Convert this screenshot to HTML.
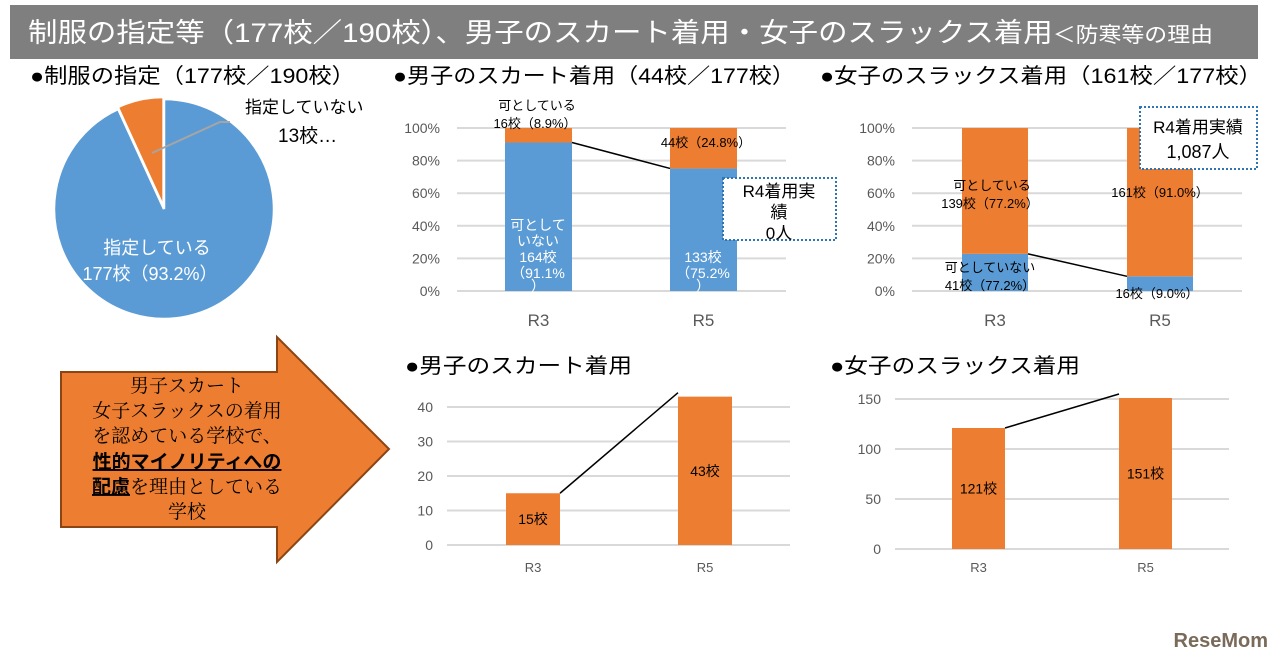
<!DOCTYPE html>
<html><head><meta charset="utf-8"><style>
body{margin:0;width:1280px;height:663px;background:#fff;overflow:hidden;font-family:"Liberation Sans","Noto Sans CJK JP",sans-serif}
svg text{font-family:"Liberation Sans","Noto Sans CJK JP",sans-serif}
.sf{font-family:"Liberation Serif","Noto Serif CJK SC",serif !important}
</style></head><body>
<svg id="s" width="1280" height="663" viewBox="0 0 1280 663">
<rect x="10" y="5" width="1248" height="54" fill="#7f7f7f"/>
<text x="28" y="42" font-size="27" fill="#fff" textLength="1185" lengthAdjust="spacingAndGlyphs">制服の指定等（177校／190校）、男子のスカート着用・女子のスラックス着用<tspan font-size="21">＜防寒等の理由</tspan></text>
<text x="30" y="83" font-size="21" fill="#000" textLength="325" lengthAdjust="spacingAndGlyphs">●制服の指定（177校／190校）</text>
<text x="393" y="83" font-size="21" fill="#000" textLength="402" lengthAdjust="spacingAndGlyphs">●男子のスカート着用（44校／177校）</text>
<text x="820" y="83" font-size="21" fill="#000" textLength="442" lengthAdjust="spacingAndGlyphs">●女子のスラックス着用（161校／177校）</text>
<text x="405" y="373" font-size="21" fill="#000" textLength="227" lengthAdjust="spacingAndGlyphs">●男子のスカート着用</text>
<text x="830" y="373" font-size="21" fill="#000" textLength="250" lengthAdjust="spacingAndGlyphs">●女子のスラックス着用</text>
<g id="pie"></g>
<g id="c1"></g>
<g id="c2"></g>
<g id="c3"></g>
<g id="c4"></g>
<path d="M61,372 H277 V337 L389,449 L277,562 V527 H61 Z" fill="#ed7d31" stroke="#8b4513" stroke-width="2"/>
<g font-size="19" text-anchor="middle">
<text class="sf" x="187" y="392">男子スカート</text>
<text class="sf" x="187" y="417">女子スラックスの着用</text>
<text class="sf" x="187" y="442">を認めている学校で、</text>
<text x="187" y="468" font-weight="bold" text-decoration="underline">性的マイノリティへの</text>
<text x="187" y="493"><tspan font-weight="bold" text-decoration="underline">配慮</tspan><tspan class="sf">を理由としている</tspan></text>
<text class="sf" x="187" y="518">学校</text>
</g>
<text x="1268" y="647" font-size="20" font-weight="bold" fill="#7a6a5a" text-anchor="end">ReseMom</text>
</svg>
<script>
const NS="http://www.w3.org/2000/svg";
function el(p,t,a){const e=document.createElementNS(NS,t);for(const k in a)e.setAttribute(k,a[k]);p.appendChild(e);return e;}
function tx(p,x,y,s,size,fill,anchor){const e=el(p,'text',{x:x,y:y,'font-size':size,fill:fill,'text-anchor':anchor||'middle'});e.textContent=s;return e;}
// pie data
const pieLabels=["指定している","指定していない"];
const pieValues=[177,13];
const pieColors=["#5b9bd5","#ed7d31"];
// percent stacked charts
const pctCats=["R3","R5"];
const boysNo=[91.1,75.2];
const boysYes=[8.9,24.8];
const girlsNo=[22.8,9.0];
const girlsYes=[77.2,91.0];
const pctTicks=["0%","20%","40%","60%","80%","100%"];
// count charts
const boysCount=[15,43];
const girlsCount=[121,151];
const boysTicks=[0,10,20,30,40];
const girlsTicks=[0,50,100,150];

// pie
(function(){
 const g=document.getElementById('pie');const cx=164,cy=209,r=110;
 const tot=pieValues.reduce((a,b)=>a+b,0);let a0=0;
 pieValues.forEach((v,i)=>{
  const a1=a0+v/tot*2*Math.PI;
  let ox=0,oy=0; if(i==1){const m=(a0+a1)/2;ox=Math.sin(m)*2;oy=-Math.cos(m)*2;}
  const x0=cx+ox+r*Math.sin(a0),y0=cy+oy-r*Math.cos(a0),x1=cx+ox+r*Math.sin(a1),y1=cy+oy-r*Math.cos(a1);
  const p=el(g,'path',{d:`M${cx+ox},${cy+oy} L${x0},${y0} A${r},${r} 0 ${a1-a0>Math.PI?1:0} 1 ${x1},${y1} Z`,fill:pieColors[i],stroke:'#fff','stroke-width':2.5});
  
  
  a0=a1;
 });
 el(g,'polyline',{points:"152,153 220,122 230,122",fill:'none',stroke:'#a5a5a5','stroke-width':2});
 tx(g,245,113,"指定していない",17,'#000','start');
 tx(g,278,142,"13校…",19,'#000','start');
 tx(g,157,254,"指定している",18,'#fff');
 tx(g,150,280,pieValues[0]+"校（93.2%）",18,'#fff');
})();

function pctChart(id,x0,x1,barX,bw,no,yes){
 const g=document.getElementById(id);const yb=291,yt=128;
 const Y=v=>yb-(yb-yt)*v/100;
 pctTicks.forEach((t,i)=>{const v=i*20;el(g,'line',{x1:x0,x2:x1,y1:Y(v),y2:Y(v),stroke:'#d9d9d9','stroke-width':2});tx(g,x0-17,Y(v)+5,t,14,'#595959','end');});
 pctCats.forEach((c,i)=>{
  const b=el(g,'rect',{x:barX[i],y:Y(no[i]),width:bw,height:Y(0)-Y(no[i]),fill:'#5b9bd5'});
  
  
  const o=el(g,'rect',{x:barX[i],y:Y(no[i]+yes[i]),width:bw,height:Y(no[i])-Y(no[i]+yes[i]),fill:'#ed7d31'});
  
  
  tx(g,barX[i]+bw/2,326,c,17,'#595959');
 });
 el(g,'line',{x1:barX[0]+bw,y1:Y(no[0]),x2:barX[1],y2:Y(no[1]),stroke:'#000','stroke-width':1.5});
 return {g,Y};
}
const a=pctChart('c1',457,786,[505,670],67,boysNo,boysYes);
tx(a.g,537,110,"可としている",13,'#000');
tx(a.g,535,128,"16校（"+boysYes[0]+"%）",13,'#000');
tx(a.g,706,147,"44校（"+boysYes[1]+"%）",13,'#000');
[["可として",230],["いない",246],["164校",262],["（91.1%",278],["）",291]].forEach(s=>tx(a.g,538,s[1],s[0],14,'#fff'));
[["133校",262],["（75.2%",278],["）",291]].forEach(s=>tx(a.g,703,s[1],s[0],14,'#fff'));
el(a.g,'rect',{x:723,y:178,width:113,height:62,fill:'#fff',stroke:'#2e75b6','stroke-width':2,'stroke-dasharray':'2,2'});
tx(a.g,779,197,"R4着用実",17,'#000');tx(a.g,779,218,"績",17,'#000');tx(a.g,779,239,"0人",17,'#000');

const b=pctChart('c2',912,1242,[962,1127],66,girlsNo,girlsYes);
tx(b.g,992,190,"可としている",13,'#000');tx(b.g,990,208,"139校（77.2%）",13,'#000');
tx(b.g,990,272,"可としていない",13,'#000');tx(b.g,990,290,"41校（77.2%）",13,'#000');
tx(b.g,1160,197,"161校（"+girlsYes[1].toFixed(1)+"%）",13,'#000');
tx(b.g,1157,298,"16校（"+girlsNo[1].toFixed(1)+"%）",13,'#000');
el(b.g,'rect',{x:1140,y:107,width:117,height:62,fill:'#fff',stroke:'#2e75b6','stroke-width':2,'stroke-dasharray':'2,2'});
tx(b.g,1198,133,"R4着用実績",17,'#000');tx(b.g,1198,158,"1,087人",18,'#000');

function countChart(id,x0,x1,yb,yt,max,ticks,barX,bw,vals){
 const g=document.getElementById(id);const Y=v=>yb-(yb-yt)*v/max;
 ticks.forEach(t=>{el(g,'line',{x1:x0,x2:x1,y1:Y(t),y2:Y(t),stroke:'#d9d9d9','stroke-width':2});tx(g,x0-14,Y(t)+5,String(t),14,'#595959','end');});
 vals.forEach((v,i)=>{
  const r=el(g,'rect',{x:barX[i],y:Y(v),width:bw,height:Y(0)-Y(v),fill:'#ed7d31'});
  
  
  tx(g,barX[i]+bw/2,(Y(v)+Y(0))/2+5,v+"校",14,'#000');
  tx(g,barX[i]+bw/2,572,pctCats[i],13,'#595959');
 });
 el(g,'line',{x1:barX[0]+bw,y1:Y(vals[0]),x2:barX[1],y2:Y(vals[1])-4,stroke:'#000','stroke-width':1.5});
}
countChart('c3',447,790,545,407,40,boysTicks,[506,678],54,boysCount);
countChart('c4',895,1229,549,399,150,girlsTicks,[952,1119],53,girlsCount);
</script>
</body></html>
